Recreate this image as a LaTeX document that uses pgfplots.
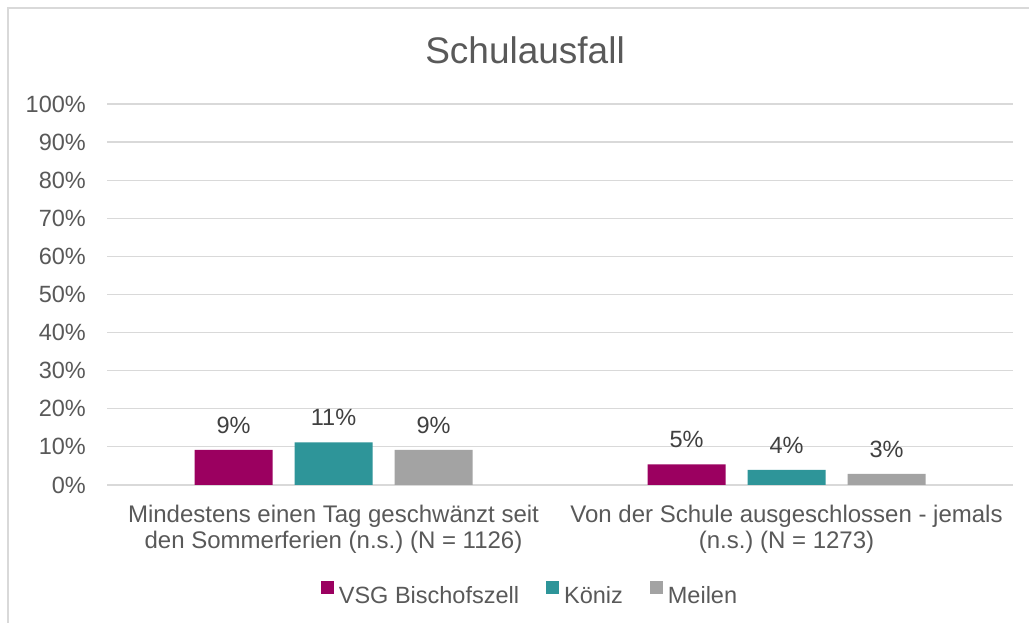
\documentclass[border=0pt]{standalone}
\usepackage{pgfplots}
\pgfplotsset{compat=1.18}
\usepackage{fontspec}
\setmainfont{Liberation Sans}
\frenchspacing
\definecolor{cMag}{HTML}{9B0060}
\definecolor{cTeal}{HTML}{2E9599}
\definecolor{cGray}{HTML}{A3A3A3}
\definecolor{txt}{HTML}{595959}
\definecolor{lbl}{HTML}{404040}
\definecolor{gridc}{HTML}{D9D9D9}
\newcommand{\lblfont}{\fontsize{23.5bp}{26bp}\selectfont}
\newcommand{\catfont}{\fontsize{24bp}{26bp}\selectfont}
\begin{document}
\begin{tikzpicture}
\useasboundingbox (0bp,0bp) rectangle (1029bp,623bp);
\fill[white] (0bp,0bp) rectangle (1029bp,623bp);
\draw[gridc, line width=1.5bp] (8bp,0bp) -- (8bp,615bp) -- (1029bp,615bp);
\node[anchor=base, text=txt, font=\fontsize{37bp}{40bp}\selectfont] at (525bp,559bp) {Schulausfall};
\begin{axis}[
  at={(107bp,138bp)}, anchor=south west,
  scale only axis, width=906bp, height=381bp,
  ymin=0, ymax=100, xmin=-0.5, xmax=1.5,
  ytick={0,10,...,100},
  yticklabel={\pgfmathprintnumber[assume math mode=true]{\tick}\%},
  yticklabel style={font=\lblfont, text=txt, anchor=east, inner sep=0pt, xshift=-21bp},
  xtick={0,1},
  xticklabels={{Mindestens einen Tag geschwänzt seit\\den Sommerferien (n.s.) (N = 1126)},{Von der Schule ausgeschlossen - jemals\\(n.s.) (N = 1273)}},
  xticklabel style={font=\catfont, text=txt, align=center, anchor=north, inner sep=0pt, yshift=-20bp},
  axis line style={draw=none},
  major tick length=0pt,
  ymajorgrids,
  grid style={gridc, line width=1.2bp},
  ybar=22bp, bar width=78bp,
  nodes near coords={\pgfmathprintnumber[fixed,precision=0,assume math mode=true]{\pgfplotspointmeta}\%},
  every node near coord/.append style={font=\lblfont, text=lbl, inner sep=0pt, yshift=16bp},
  legend columns=3,
  legend style={at={(0.4658,-0.2835)}, anchor=center, draw=none, fill=none, font=\lblfont, text=txt,
    nodes={inner sep=0pt},
    /tikz/every odd column/.append style={column sep=5bp},
    /tikz/every even column/.append style={column sep=27bp}},
  legend image code/.code={\fill[#1] (0bp,1bp) rectangle (13bp,14bp);},
]
\addplot[fill=cMag, draw=none] coordinates {(0,9.2) (1,5.4)};
\addplot[fill=cTeal, draw=none] coordinates {(0,11.2) (1,4.0)};
\addplot[fill=cGray, draw=none] coordinates {(0,9.2) (1,2.9)};
\legend{VSG Bischofszell, Köniz, Meilen}
\end{axis}
\end{tikzpicture}
\end{document}
